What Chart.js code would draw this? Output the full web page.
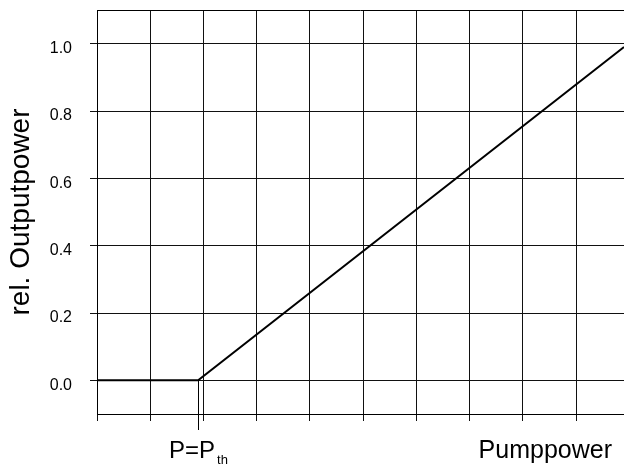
<!DOCTYPE html>
<html>
<head>
<meta charset="utf-8">
<script src="https://cdn.jsdelivr.net/npm/chart.js@4.4.1/dist/chart.umd.min.js"></script>
<style>
  body { margin: 0; background: #fff; }
</style>
</head>
<body>
<canvas id="laserChart" width="624" height="468"></canvas>
<script>
// pump power in grid units, output relative to max
var pumpPower = [0, 1.9, 9.9];
var outputPower = [0, 0, 0.99];
var threshold = 1.9;
var xTicks = [0, 1, 2, 3, 4, 5, 6, 7, 8, 9];
var yTicks = [0, 0.2, 0.4, 0.6, 0.8, 1.0];

var font = 'Liberation Sans, Arial, Helvetica, sans-serif';

// box top, threshold marker and the two bottom labels
var extras = {
  id: 'extras',
  afterDraw: function(chart) {
    var ctx = chart.ctx, area = chart.chartArea;
    var xs = chart.scales.x, ys = chart.scales.y;
    ctx.save();
    ctx.strokeStyle = '#000';
    ctx.lineWidth = 1;
    ctx.beginPath();
    ctx.moveTo(area.left, Math.round(area.top) + 0.5);
    ctx.lineTo(area.right, Math.round(area.top) + 0.5);
    var tx = Math.round(xs.getPixelForValue(threshold)) + 0.5;
    ctx.moveTo(tx, ys.getPixelForValue(0));
    ctx.lineTo(tx, area.bottom + 16);
    ctx.stroke();

    ctx.fillStyle = '#000';
    ctx.textBaseline = 'alphabetic';
    var main = 'P=P';
    ctx.font = '24px ' + font;
    var w1 = ctx.measureText(main).width;
    ctx.font = '13px ' + font;
    var w2 = ctx.measureText('th').width;
    var sx = tx - (w1 + w2 + 2) / 2;
    ctx.font = '24px ' + font;
    ctx.textAlign = 'left';
    ctx.fillText(main, sx, 458);
    ctx.font = '13px ' + font;
    ctx.fillText('th', sx + w1 + 2, 464);

    ctx.font = '25px ' + font;
    ctx.textAlign = 'right';
    ctx.fillText('Pumppower', area.right - 12, 458);
    ctx.restore();
  }
};

new Chart(document.getElementById('laserChart'), {
  type: 'line',
  data: {
    datasets: [{
      data: pumpPower.map(function(p, i) { return {x: p, y: outputPower[i]}; }),
      borderColor: '#000',
      borderWidth: 2,
      pointRadius: 0,
      tension: 0,
      fill: false
    }]
  },
  options: {
    responsive: false,
    animation: false,
    layout: { padding: { top: 10, left: 0, right: 0, bottom: 0 } },
    plugins: {
      legend: { display: false },
      tooltip: { enabled: false }
    },
    scales: {
      x: {
        type: 'linear',
        min: 0,
        max: 9.9,
        afterBuildTicks: function(scale) {
          scale.ticks = xTicks.map(function(v) { return {value: v}; });
        },
        afterFit: function(scale) {
          scale.height = 54;
          scale.paddingLeft = 0;
          scale.paddingRight = 0;
        },
        ticks: { display: false, autoSkip: false },
        grid: { color: '#111', lineWidth: 1, tickLength: 7 },
        border: { color: '#000', width: 1 }
      },
      y: {
        min: -0.1,
        max: 1.1,
        afterBuildTicks: function(scale) {
          scale.ticks = yTicks.map(function(v) { return {value: v}; });
        },
        afterFit: function(scale) {
          scale.width = 97;
          scale.paddingTop = 0;
          scale.paddingBottom = 0;
        },
        ticks: {
          color: '#000',
          padding: 18,
          labelOffset: 5,
          font: { family: font, size: 16 },
          callback: function(v) { return Number(v).toFixed(1); }
        },
        grid: { color: '#111', lineWidth: 1, tickLength: 7 },
        border: { color: '#000', width: 1 },
        title: {
          display: true,
          text: 'rel. Outputpower',
          color: '#000',
          font: { family: font, size: 28 },
          padding: { top: 4, bottom: 0 }
        }
      }
    }
  },
  plugins: [extras]
});
</script>
</body>
</html>
